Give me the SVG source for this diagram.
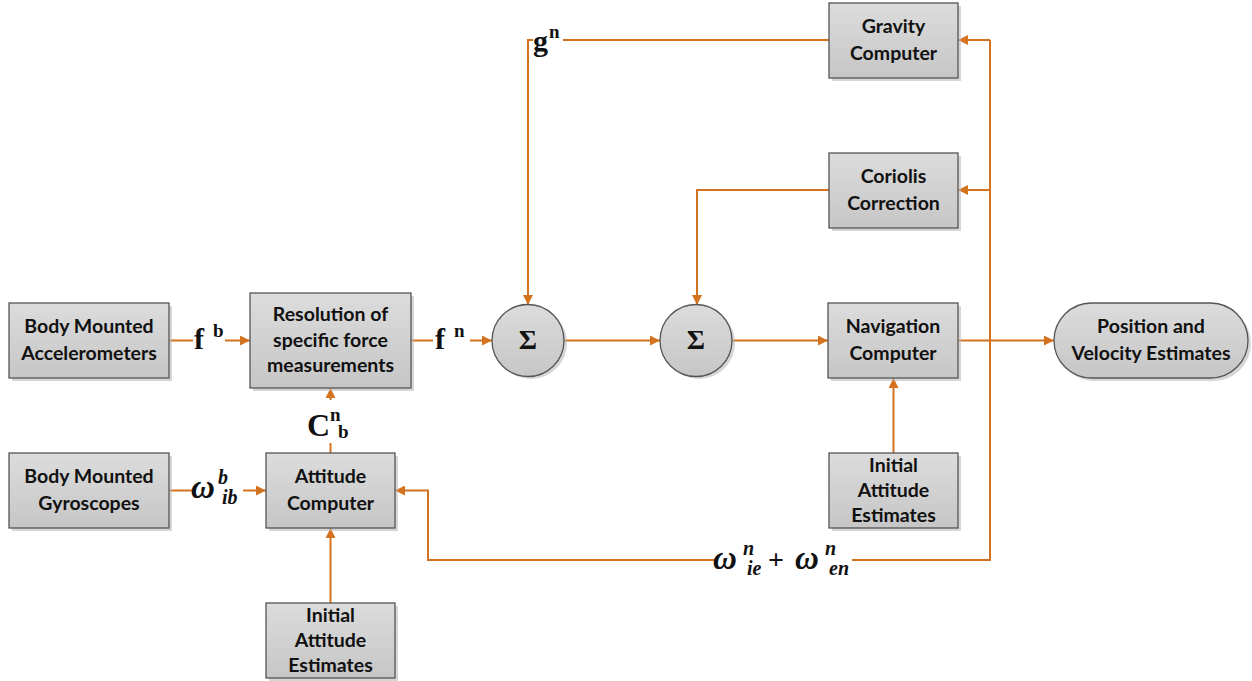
<svg xmlns="http://www.w3.org/2000/svg" width="1252" height="681" viewBox="0 0 1252 681">
<defs>
<linearGradient id="g" x1="0" y1="0" x2="0" y2="1"><stop offset="0" stop-color="#dcdcdc"/><stop offset="1" stop-color="#c6c6c6"/></linearGradient>
<marker id="a" viewBox="0 0 10 10" refX="10" refY="5" markerWidth="10" markerHeight="10" markerUnits="userSpaceOnUse" orient="auto"><path d="M0,0 L10,5 L0,10 z" fill="#d4731f"/></marker>
</defs>
<style>
.box{fill:url(#g);stroke:#555;stroke-width:1.3}
.sh{fill:#bbb;opacity:0.6}
.t{font-family:Lato,"Liberation Sans",sans-serif;font-weight:bold;font-size:19.5px;fill:#111;text-anchor:middle}
.c{fill:none;stroke:#d4731f;stroke-width:2}
.m{font-family:"Liberation Serif",serif;font-weight:bold;fill:#111}
.w{font-family:"Liberation Serif",serif;font-weight:bold;font-style:italic;fill:#111}
</style>
<rect width="1252" height="681" fill="#fff"/>
<g id="connectors">
<path class="c" d="M169,340.5 H193 M225,340.5 H250" marker-end="url(#a)"/>
<path class="c" d="M411,340.5 H433 M470,340.5 H492" marker-end="url(#a)"/>
<path class="c" d="M564,340.5 H660" marker-end="url(#a)"/>
<path class="c" d="M732,340.5 H828" marker-end="url(#a)"/>
<path class="c" d="M958,340.5 H1054" marker-end="url(#a)"/>
<path class="c" d="M169,490.5 H192 M243,490.5 H266" marker-end="url(#a)"/>
<path class="c" d="M330.5,453 V443 M330.5,400 V388" marker-end="url(#a)"/>
<path class="c" d="M330.5,603 V528" marker-end="url(#a)"/>
<path class="c" d="M893.5,453 V378" marker-end="url(#a)"/>
<path class="c" d="M829,40 H563 M533,40 H528 V305" marker-end="url(#a)"/>
<path class="c" d="M829,190 H697 V305" marker-end="url(#a)"/>
<path class="c" d="M990,40 V560 H852 M715,560 H428 V490.5 H395" marker-end="url(#a)"/>
<path class="c" d="M990,40 H958" marker-end="url(#a)"/>
<path class="c" d="M990,190 H958" marker-end="url(#a)"/>
</g>
<g id="accel">
<rect class="sh" x="12" y="306" width="160" height="75"/>
<rect class="box" x="9" y="303" width="160" height="75"/>
<text class="t" x="89" y="333">Body Mounted</text><text class="t" x="89" y="360">Accelerometers</text>
</g>
<g id="resolution">
<rect class="sh" x="253" y="296" width="161" height="95"/>
<rect class="box" x="250" y="293" width="161" height="95"/>
<text class="t" x="330.5" y="321">Resolution of</text><text class="t" x="330.5" y="347">specific force</text><text class="t" x="330.5" y="372">measurements</text>
</g>
<g id="gyro">
<rect class="sh" x="12" y="456" width="160" height="75"/>
<rect class="box" x="9" y="453" width="160" height="75"/>
<text class="t" x="89" y="483">Body Mounted</text><text class="t" x="89" y="510">Gyroscopes</text>
</g>
<g id="attitude">
<rect class="sh" x="269" y="456" width="129" height="75"/>
<rect class="box" x="266" y="453" width="129" height="75"/>
<text class="t" x="330.5" y="483">Attitude</text><text class="t" x="330.5" y="510">Computer</text>
</g>
<g id="init1">
<rect class="sh" x="269" y="606" width="129" height="75"/>
<rect class="box" x="266" y="603" width="129" height="75"/>
<text class="t" x="330.5" y="622">Initial</text><text class="t" x="330.5" y="647">Attitude</text><text class="t" x="330.5" y="672">Estimates</text>
</g>
<g id="gravity">
<rect class="sh" x="832" y="6" width="129" height="75"/>
<rect class="box" x="829" y="3" width="129" height="75"/>
<text class="t" x="893.5" y="33">Gravity</text><text class="t" x="893.5" y="60">Computer</text>
</g>
<g id="coriolis">
<rect class="sh" x="832" y="156" width="129" height="75"/>
<rect class="box" x="829" y="153" width="129" height="75"/>
<text class="t" x="893.5" y="183">Coriolis</text><text class="t" x="893.5" y="210">Correction</text>
</g>
<g id="nav">
<rect class="sh" x="831" y="306" width="130" height="75"/>
<rect class="box" x="828" y="303" width="130" height="75"/>
<text class="t" x="893" y="333">Navigation</text><text class="t" x="893" y="360">Computer</text>
</g>
<g id="init2">
<rect class="sh" x="832" y="456" width="129" height="75"/>
<rect class="box" x="829" y="453" width="129" height="75"/>
<text class="t" x="893.5" y="472">Initial</text><text class="t" x="893.5" y="497">Attitude</text><text class="t" x="893.5" y="522">Estimates</text>
</g>
<g id="sum1">
<circle class="sh" cx="531" cy="343" r="36"/>
<circle class="box" cx="528" cy="340.5" r="36"/>
<text class="m" x="528" y="349" font-size="28" text-anchor="middle">Σ</text>
</g>
<g id="sum2">
<circle class="sh" cx="699" cy="343" r="36"/>
<circle class="box" cx="696" cy="340.5" r="36"/>
<text class="m" x="696" y="349" font-size="28" text-anchor="middle">Σ</text>
</g>
<g id="position">
<rect class="sh" x="1057" y="306" width="194" height="75" rx="37.5"/>
<rect class="box" x="1054" y="303" width="194" height="75" rx="37.5"/>
<text class="t" x="1151" y="333">Position and</text><text class="t" x="1151" y="360">Velocity Estimates</text>
</g>
<g id="labels">
<text class="m" x="194" y="349" font-size="30">f</text><text class="m" x="213" y="337" font-size="19">b</text>
<text class="m" x="435" y="349" font-size="30">f</text><text class="m" x="454" y="337" font-size="19">n</text>
<text class="m" x="533" y="51" font-size="30">g</text><text class="m" x="549" y="38" font-size="19">n</text>
<text class="m" x="307" y="436" font-size="32">C</text><text class="m" x="330" y="421" font-size="19">n</text><text class="m" x="338" y="438" font-size="19">b</text>
<text class="w" x="191" y="498" font-size="33">ω</text><text class="w" x="218" y="484" font-size="20">b</text><text class="w" x="222" y="504" font-size="20">ib</text>
<text class="w" x="713" y="569" font-size="33">ω</text><text class="w" x="743" y="555" font-size="20">n</text><text class="w" x="747" y="575" font-size="20">ie</text>
<text class="m" x="768" y="569" font-size="28" font-weight="normal">+</text>
<text class="w" x="795" y="569" font-size="33">ω</text><text class="w" x="825" y="555" font-size="20">n</text><text class="w" x="829" y="575" font-size="20">en</text>
</g>
</svg>
